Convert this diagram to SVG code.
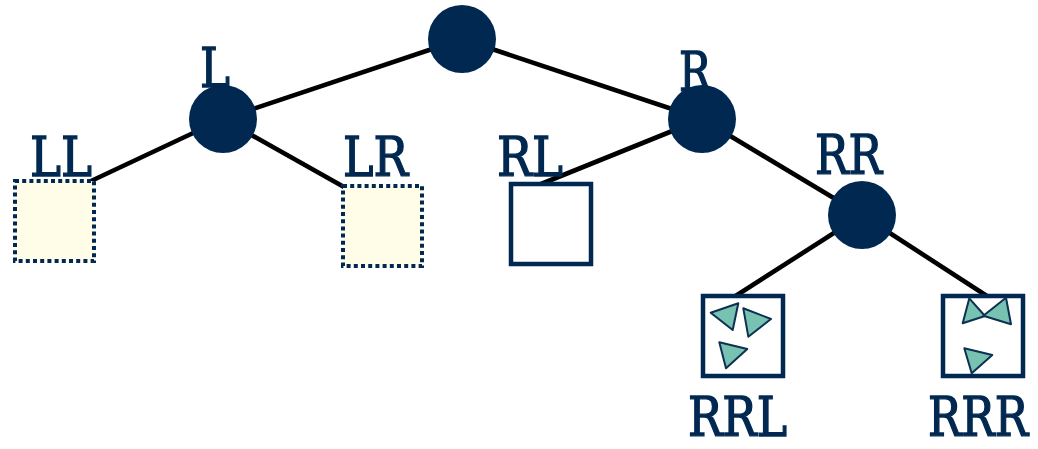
<svg xmlns="http://www.w3.org/2000/svg" width="1038" height="449" viewBox="0 0 1038 449">
<style>
.edge{stroke:#000;stroke-width:4.6;fill:none}
.inner{fill:#002850}
.leaf{fill:#fff;stroke:#002850;stroke-width:4.5}
.dot{fill:#fffde8;stroke:#002850;stroke-width:4;stroke-dasharray:4 3.2}
.tri{fill:#78c2b2;stroke:#0d3050;stroke-width:2;stroke-linejoin:round}
.lbl{font-family:"DejaVu Serif","Liberation Serif",serif;font-stretch:condensed;font-size:55px;fill:#002850;stroke:#002850;stroke-width:1.3;text-anchor:middle}
.low{font-size:54px}
</style>
<rect width="1038" height="449" fill="#fff"/>
<g id="edges">
<line class="edge" x1="462" y1="39" x2="223" y2="119"/>
<line class="edge" x1="462" y1="39" x2="702" y2="119"/>
<line class="edge" x1="223" y1="119" x2="91" y2="181"/>
<line class="edge" x1="223" y1="119" x2="344" y2="187"/>
<line class="edge" x1="702" y1="119" x2="541" y2="184"/>
<line class="edge" x1="702" y1="119" x2="862" y2="215"/>
<line class="edge" x1="862" y1="215" x2="734" y2="297"/>
<line class="edge" x1="862" y1="215" x2="990" y2="298"/>
</g>
<g id="root"><circle class="inner" cx="462" cy="39" r="34"/></g>
<g id="L"><circle class="inner" cx="223" cy="119" r="34"/><text class="lbl" x="215" y="87" textLength="30" lengthAdjust="spacingAndGlyphs">L</text></g>
<g id="R"><circle class="inner" cx="702" cy="119" r="34"/><text class="lbl" x="695" y="91" textLength="32" lengthAdjust="spacingAndGlyphs">R</text></g>
<g id="RR"><circle class="inner" cx="862" cy="215" r="34"/><text class="lbl" x="848.5" y="174" textLength="67" lengthAdjust="spacingAndGlyphs">RR</text></g>
<g id="LL"><rect class="dot" x="15" y="181" width="79" height="80"/><text class="lbl" x="61" y="176" textLength="62" lengthAdjust="spacingAndGlyphs">LL</text></g>
<g id="LR"><rect class="dot" x="343" y="186" width="79" height="80"/><text class="lbl" x="375.5" y="176" textLength="65" lengthAdjust="spacingAndGlyphs">LR</text></g>
<g id="RL"><rect class="leaf" x="511" y="184" width="80" height="80"/><text class="lbl" x="530" y="176" textLength="66" lengthAdjust="spacingAndGlyphs">RL</text></g>
<g id="RRL"><rect class="leaf" x="703" y="296" width="80" height="80"/>
<polygon class="tri" points="710.7,312.7 738.3,303.3 732.7,330"/>
<polygon class="tri" points="743.3,308.3 771,319 748.3,336.7"/>
<polygon class="tri" points="719.3,342.3 747.3,349 726,368.3"/>
<text class="lbl low" x="737.5" y="436" textLength="99" lengthAdjust="spacingAndGlyphs">RRL</text></g>
<g id="RRR"><rect class="leaf" x="943" y="296" width="80" height="80"/>
<polygon class="tri" points="969.3,298.3 985,316 962.7,323.3"/>
<polygon class="tri" points="1006,297.7 1011,324.3 983.3,315.7"/>
<polygon class="tri" points="964.3,348.3 992.3,355 971.7,373.3"/>
<text class="lbl low" x="978" y="436" textLength="100" lengthAdjust="spacingAndGlyphs">RRR</text></g>
</svg>
